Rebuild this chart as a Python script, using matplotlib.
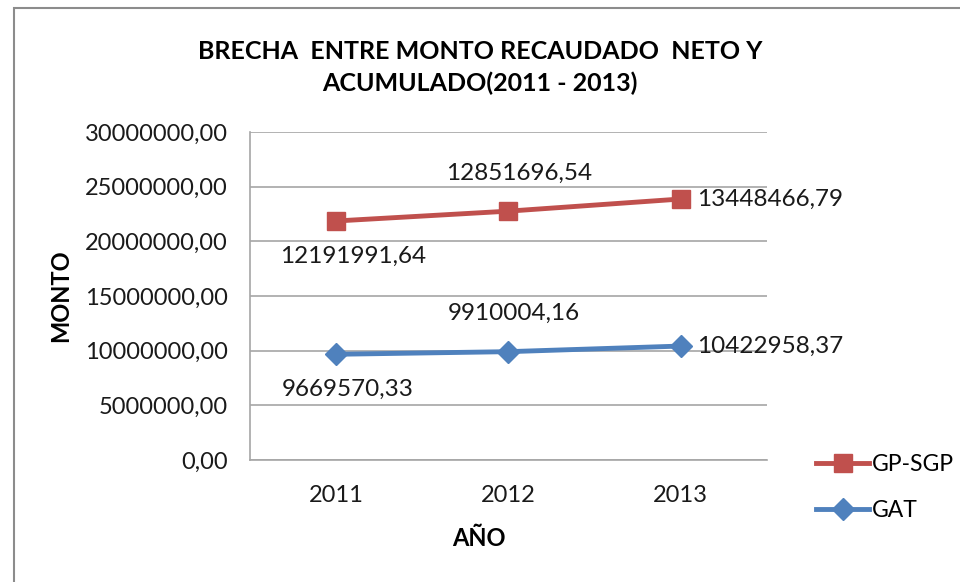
import matplotlib.pyplot as plt
import matplotlib.patches as patches
from matplotlib.ticker import FuncFormatter

years = ['2011', '2012', '2013']
gat = [9669570.33, 9910004.16, 10422958.37]
gp_sgp = [12191991.64, 12851696.54, 13448466.79]

plt.rcParams['font.family'] = ['Lato', 'DejaVu Sans']

fig = plt.figure(figsize=(9.6, 5.82), dpi=100)
ax = fig.add_axes([0.2604, 0.2096, 0.5385, 0.5636])

x = list(range(len(years)))
# stacked line: GP-SGP sits on top of GAT
stacked = [a + b for a, b in zip(gat, gp_sgp)]

l_gat, = ax.plot(x, gat, color='#4F81BD', lw=3.5, marker='D', ms=11, label='GAT', zorder=3)
l_gp, = ax.plot(x, stacked, color='#C0504D', lw=3.5, marker='s', ms=13, label='GP-SGP', zorder=3)

def fmt(v):
    return f'{v:.2f}'.replace('.', ',')

# label positions: below, above, right
offs = [((8, -18), 'center', 'top'), ((4, 20), 'center', 'bottom'), ((12, 0), 'left', 'center')]
for i in x:
    (dx, dy), ha, va = offs[i]
    ax.annotate(fmt(gat[i]), (i, gat[i]), xytext=(dx, dy), textcoords='offset points',
                ha=ha, va=va, fontsize=17.5, color='#1a1a1a')
    ax.annotate(fmt(gp_sgp[i]), (i, stacked[i]), xytext=(dx + (4 if i < 2 else 0), dy),
                textcoords='offset points', ha=ha, va=va, fontsize=17.5, color='#1a1a1a')

ax.set_xlim(-0.5, 2.5)
ax.set_ylim(0, 30000000)
ax.set_yticks(range(0, 30000001, 5000000))
ax.yaxis.set_major_formatter(FuncFormatter(lambda v, p: fmt(v)))
ax.set_xticks(x)
ax.set_xticklabels(years)
ax.tick_params(axis='both', length=0, labelsize=17, colors='#1a1a1a')
ax.tick_params(axis='y', pad=16)
ax.tick_params(axis='x', pad=18)
ax.grid(axis='y', color='#a6a6a6', lw=1.2)
ax.set_axisbelow(True)
for s in ['top', 'right']:
    ax.spines[s].set_visible(False)
for s in ['left', 'bottom']:
    ax.spines[s].set_color('#a6a6a6')
    ax.spines[s].set_linewidth(1.2)

ax.set_ylabel('MONTO', fontsize=17, fontweight='bold')
ax.yaxis.set_label_coords(-0.345, 0.5)
ax.set_xlabel('AÑO', fontsize=17, fontweight='bold')
ax.xaxis.set_label_coords(0.443, -0.205)

fig.text(0.5, 0.884, 'BRECHA  ENTRE MONTO RECAUDADO  NETO Y\nACUMULADO(2011 - 2013)',
         ha='center', va='center', fontsize=18, fontweight='bold', linespacing=1.45)

fig.legend([l_gp, l_gat], ['GP-SGP', 'GAT'], loc='center left', bbox_to_anchor=(0.829, 0.162),
           frameon=False, fontsize=16.5, handlelength=2.3, labelspacing=1.1, handletextpad=0.1)

fig.patches.append(patches.Rectangle((0.0146, -0.1), 1.2, 1.086, transform=fig.transFigure,
                                     fill=False, edgecolor='#8c8c8c', lw=1.5))

fig.savefig('out.png', dpi=100)
